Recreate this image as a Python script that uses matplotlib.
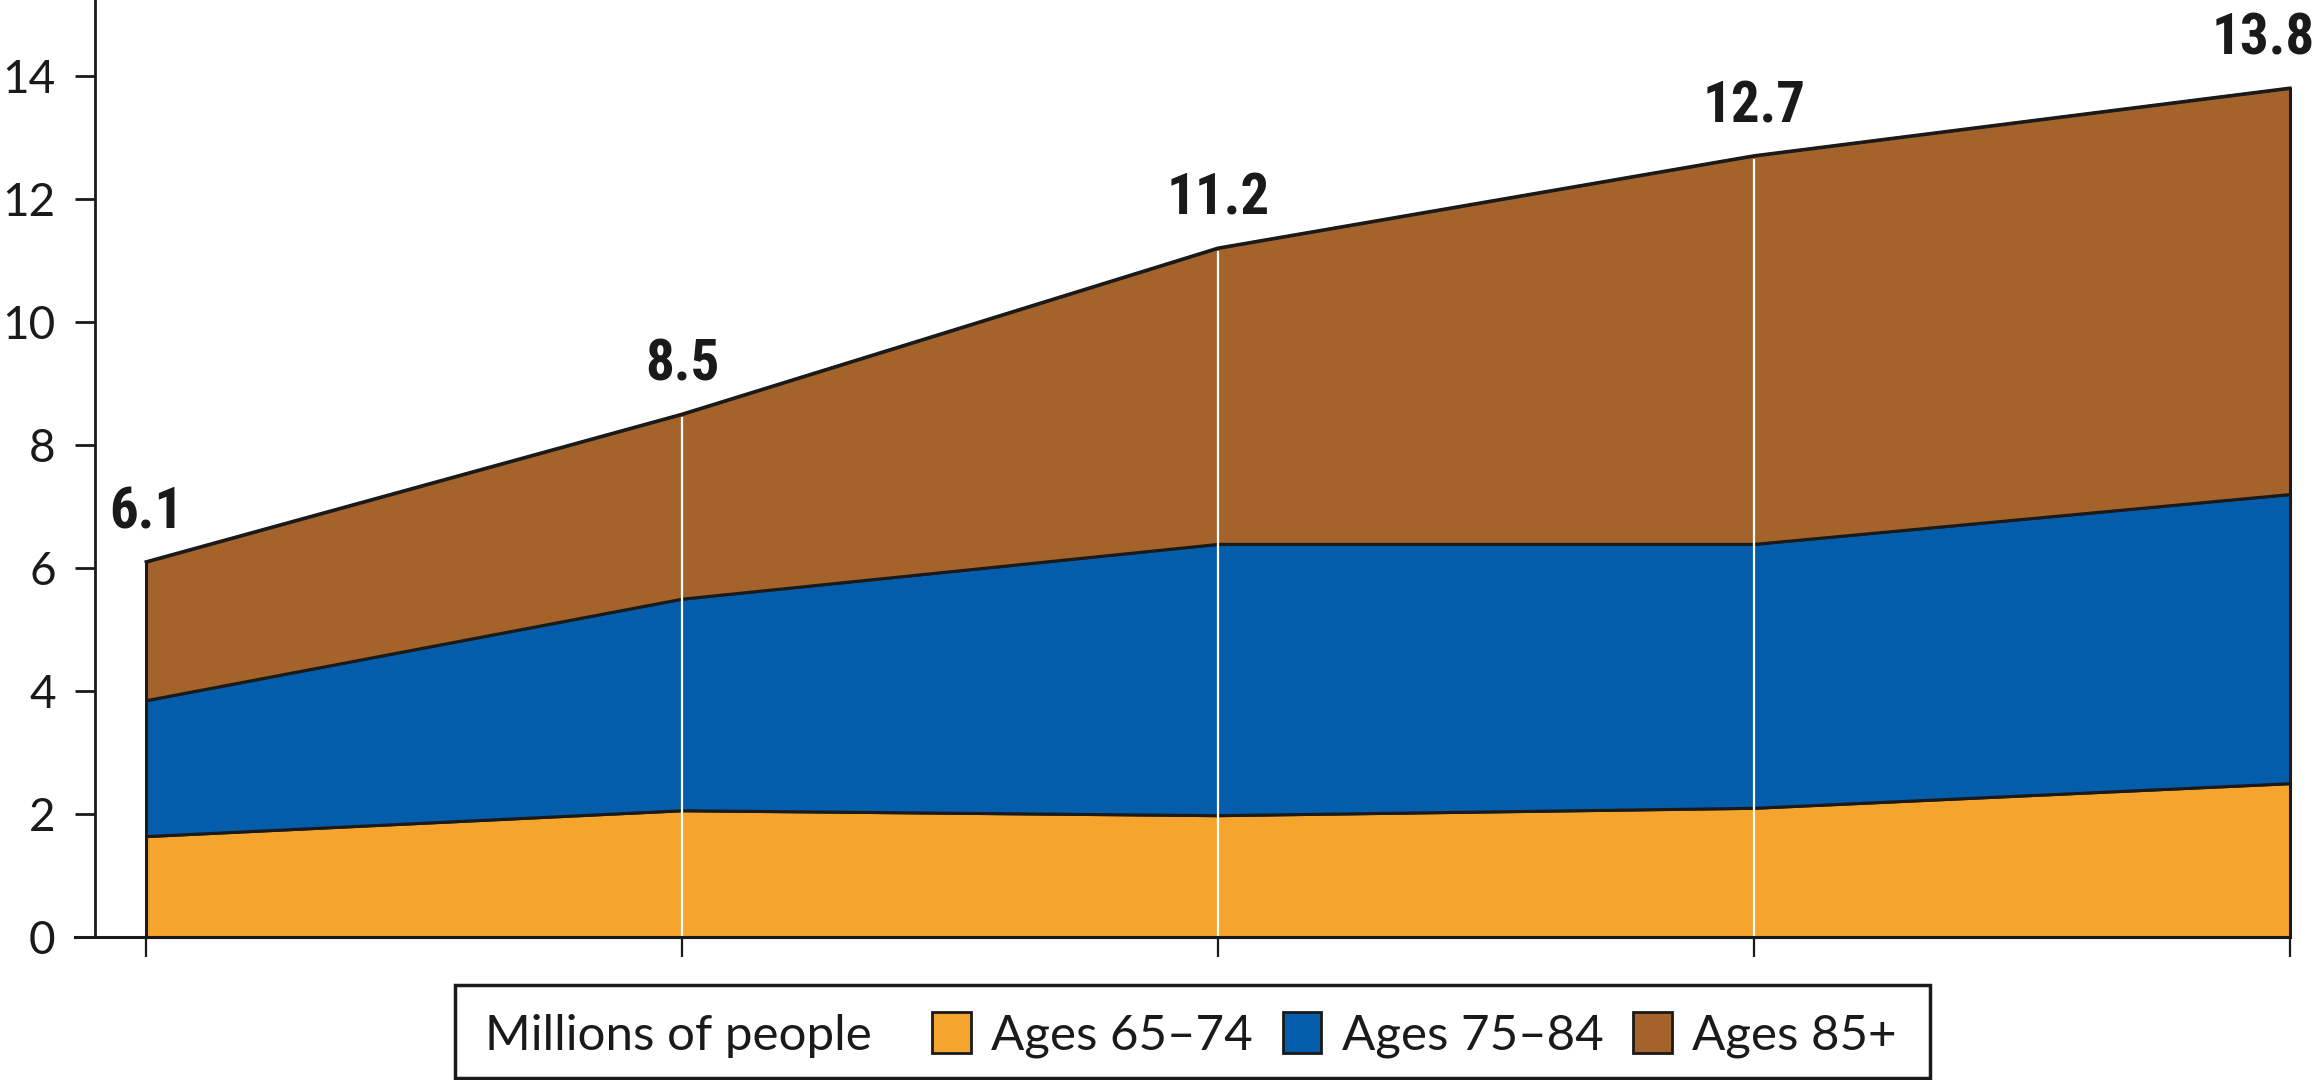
import matplotlib
matplotlib.use("Agg")
import matplotlib.pyplot as plt
import numpy as np
from matplotlib.patches import Rectangle

# data (millions of people)
periods = ["P1", "P2", "P3", "P4", "P5"]
series_names = ["Ages 65–74", "Ages 75–84", "Ages 85+"]
ages_65_74 = [1.64, 2.06, 1.98, 2.10, 2.50]
ages_75_84 = [2.21, 3.44, 4.41, 4.29, 4.70]
ages_85_plus = [2.25, 3.00, 4.81, 6.31, 6.60]
unit_label = "Millions of people"
colors = ["#F5A42E", "#035DAA", "#A4632A"]
y_ticks = [0, 2, 4, 6, 8, 10, 12, 14]

plt.rcParams["font.family"] = ["Lato", "DejaVu Sans"]
bold_font = ["Roboto Condensed", "Liberation Sans Narrow", "Roboto", "DejaVu Sans"]
ink = "#1a1a1a"

W, H = 2318, 1080
fig = plt.figure(figsize=(W / 100, H / 100), dpi=100)
ax = fig.add_axes([75 / W, 143 / H, (2290 - 75) / W, 1 - 143 / H])

x = np.arange(len(periods))
layers = np.array([ages_65_74, ages_75_84, ages_85_plus])
tops = np.cumsum(layers, axis=0)
bottoms = tops - layers
totals = tops[-1]

for i in range(len(series_names)):
    ax.fill_between(x, bottoms[i], tops[i], facecolor=colors[i], edgecolor=ink,
                    linewidth=2.2, zorder=2, clip_on=False)

# white guide lines at the inner periods
ax.vlines(x[1:-1], 0, totals[1:-1] - 0.05, colors="white", linewidth=1.6, zorder=3)
ax.plot(x, totals, color=ink, linewidth=2.2, zorder=4, clip_on=False)

# total labels
for i, (xi, t) in enumerate(zip(x, totals)):
    last = i == len(x) - 1
    ax.annotate(f"{t:.1f}", (xi, t), xytext=(18 if last else 0, 24),
                textcoords="offset points", ha="right" if last else "center",
                va="baseline", fontsize=41, fontweight="bold",
                family=bold_font, color=ink, annotation_clip=False)

# axes
ax.set_xlim(-0.1325, x[-1])
ax.set_ylim(0, 15.23)
ax.set_xticks(x)
ax.set_xticklabels([])
ax.set_yticks(y_ticks)
ax.set_yticklabels([str(v) for v in y_ticks])
ax.tick_params(axis="x", direction="out", length=14.4, width=1.6, color=ink)
ax.tick_params(axis="y", direction="out", length=14.4, width=2.0, color=ink,
               pad=14, labelsize=33, labelcolor=ink)
for s in ["top", "right"]:
    ax.spines[s].set_visible(False)
ax.spines["bottom"].set_linewidth(2.2)
ax.spines["bottom"].set_color(ink)
ax.spines["bottom"].set_zorder(5)
ax.spines["left"].set_linewidth(2.0)
ax.spines["left"].set_color(ink)
ax.spines["left"].set_position(("data", -0.095))
ax.set_facecolor("none")

# legend box drawn by hand in figure pixels
box = Rectangle((455 / W, 2 / H), (1930 - 455) / W, (95 - 2) / H,
                transform=fig.transFigure, facecolor="white", edgecolor=ink,
                linewidth=2.5, zorder=1)
fig.add_artist(box)

renderer = fig.canvas.get_renderer()
baseline = 30 / H
cur = 485
t = fig.text(cur / W, baseline, unit_label, fontsize=35.5, color=ink,
             va="baseline", ha="left")
cur += t.get_window_extent(renderer).width + 60
for name, c in zip(series_names, colors):
    fig.add_artist(Rectangle((cur / W, 27 / H), 39 / W, 41 / H, transform=fig.transFigure,
                             facecolor=c, edgecolor=ink, linewidth=2.0))
    cur += 39 + 20
    t = fig.text(cur / W, baseline, name, fontsize=35.5, color=ink,
                 va="baseline", ha="left")
    cur += t.get_window_extent(renderer).width + 30

fig.savefig("out.png", dpi=100)
